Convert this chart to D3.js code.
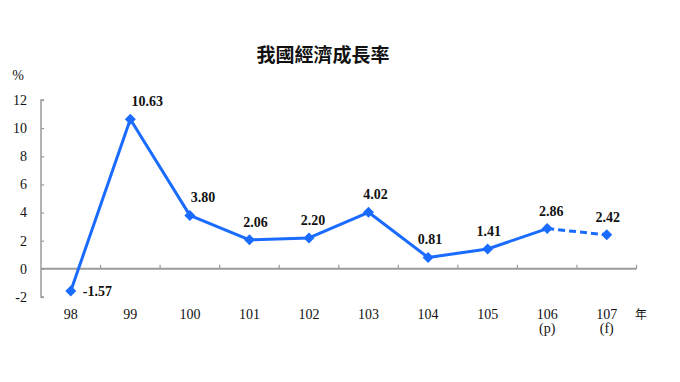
<!DOCTYPE html>
<html><head><meta charset="utf-8">
<script src="https://cdn.jsdelivr.net/npm/d3@7"></script>
<style>body{margin:0;background:#fff}svg{display:block}</style>
</head><body>
<svg id="c" width="680" height="382"></svg>
<script>
const title = "我國經濟成長率";
const years = ["98","99","100","101","102","103","104","105","106","107"];
const yearNotes = ["","","","","","","","","(p)","(f)"];
const growth = [-1.57, 10.63, 3.80, 2.06, 2.20, 4.02, 0.81, 1.41, 2.86, 2.42];
const labels = ["-1.57","10.63","3.80","2.06","2.20","4.02","0.81","1.41","2.86","2.42"];
const yTicks = [-2, 0, 2, 4, 6, 8, 10, 12];
const forecastFrom = 8; // index where dashed segment starts

const svg = d3.select("#c");
const serif = "'Liberation Serif','Times New Roman',serif";
const blue = "#1a6bff";
const grey = "#9a9a9a";

const x = d3.scaleBand().domain(years).range([41, 636.5]).padding(0);
const y = d3.scaleLinear().domain([-2, 12]).range([297, 100]);
const cx = d => x(d) + x.bandwidth() / 2;

// title
svg.append("text").attr("x", 323).attr("y", 62).attr("text-anchor", "middle")
  .attr("font-family", "'Noto Sans CJK TC','Noto Sans CJK SC',sans-serif")
  .attr("font-weight", "bold").attr("font-size", 19).attr("fill", "#111").text(title);

// % unit
svg.append("text").attr("x", 18).attr("y", 80).attr("text-anchor", "middle")
  .attr("font-family", serif).attr("font-size", 14).attr("fill", "#111").text("%");

// y axis
const yAxis = d3.axisRight(y).tickValues(yTicks).tickSize(3).tickFormat("");
const gy = svg.append("g").attr("transform", "translate(41,0)").call(yAxis);
gy.select(".domain").attr("stroke", grey).attr("stroke-width", 1.5).attr("d", `M3,${y(12)}H0V${y(-2)}H3`);
gy.selectAll(".tick line").attr("stroke", grey).attr("stroke-width", 1.2);
svg.append("g").selectAll("text").data(yTicks).join("text")
  .attr("x", 27).attr("y", d => y(d)).attr("dy", "0.35em").attr("text-anchor", "end")
  .attr("font-family", serif).attr("font-size", 14).attr("fill", "#111").text(d => d);

// x axis at zero
const boundaries = years.map(d => x(d)).concat([x.range()[1]]).slice(1);
const gx = svg.append("g");
gx.append("line").attr("x1", 41).attr("x2", x.range()[1]).attr("y1", y(0)).attr("y2", y(0))
  .attr("stroke", grey).attr("stroke-width", 2);
gx.selectAll("line.t").data(boundaries).join("line").attr("class", "t")
  .attr("x1", d => d).attr("x2", d => d).attr("y1", y(0)).attr("y2", y(0) - 4)
  .attr("stroke", grey).attr("stroke-width", 1.2);

// x labels
svg.append("g").selectAll("text").data(years).join("text")
  .attr("x", d => cx(d)).attr("y", 319).attr("text-anchor", "middle")
  .attr("font-family", serif).attr("font-size", 14).attr("fill", "#111").text(d => d);
svg.append("g").selectAll("text").data(years.map((d, i) => [d, yearNotes[i]]).filter(d => d[1])).join("text")
  .attr("x", d => cx(d[0])).attr("y", 333).attr("text-anchor", "middle")
  .attr("font-family", serif).attr("font-size", 14).attr("fill", "#111").text(d => d[1]);
svg.append("text").attr("x", 641).attr("y", 319).attr("text-anchor", "middle")
  .attr("font-family", "'Noto Sans CJK TC',sans-serif").attr("font-size", 12).attr("fill", "#111").text("年");

// line
const pts = years.map((d, i) => ({ year: d, v: growth[i], label: labels[i], i }));
const line = d3.line().x(d => cx(d.year)).y(d => y(d.v));
svg.append("path").datum(pts.slice(0, forecastFrom + 1)).attr("d", line)
  .attr("fill", "none").attr("stroke", blue).attr("stroke-width", 3).attr("stroke-linejoin", "round");
svg.append("path").datum(pts.slice(forecastFrom)).attr("d", line)
  .attr("fill", "none").attr("stroke", blue).attr("stroke-width", 3).attr("stroke-dasharray", "7,4");

// markers
svg.append("g").selectAll("path").data(pts).join("path")
  .attr("transform", d => `translate(${cx(d.year)},${y(d.v)})`)
  .attr("d", "M0,-5.5L5.5,0L0,5.5L-5.5,0Z").attr("fill", blue);

// data labels
const dxs = [0, 17, 13, 6, 4, 7, 2, 1, 4, 1];
svg.append("g").selectAll("text").data(pts).join("text")
  .attr("x", d => d.v < 0 ? cx(d.year) + 12 : cx(d.year) + dxs[d.i])
  .attr("y", d => d.v < 0 ? y(d.v) + 5 : y(d.v) - 13)
  .attr("text-anchor", d => d.v < 0 ? "start" : "middle")
  .attr("font-family", serif).attr("font-weight", "bold").attr("font-size", 14).attr("fill", "#111")
  .text(d => d.label);
</script>
</body></html>
